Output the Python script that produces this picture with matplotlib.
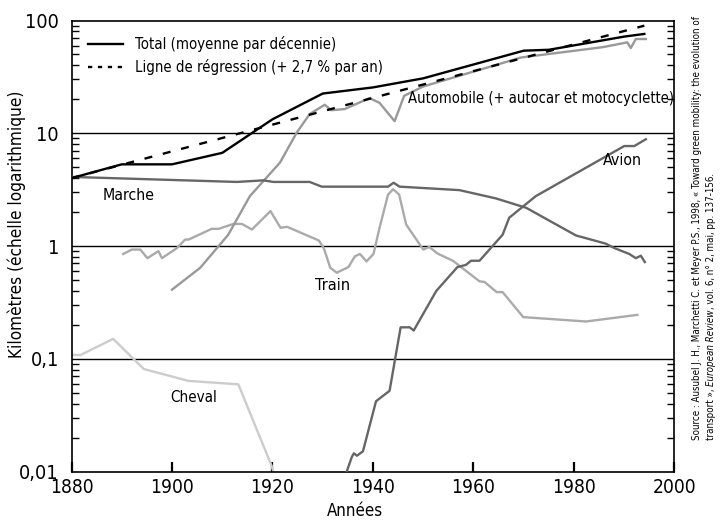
import matplotlib
matplotlib.use("Agg")
import matplotlib.pyplot as plt
from matplotlib import font_manager as fm
from matplotlib.ticker import FixedLocator, FixedFormatter, LogLocator, NullFormatter
from matplotlib.lines import Line2D

# ---- data ----
total_years = [1880, 1890, 1900, 1910, 1920, 1930, 1940, 1950, 1970, 1975, 1990, 1994]
total_vals = [4.0, 5.3, 5.3, 6.7, 13.3, 22.5, 25.5, 30.7, 54, 55, 72, 76]

regr_years = [1880, 1994]
regr_vals = [4.0, 90]

auto_years = [1900, 1905.6, 1909.3, 1911.2, 1915.5, 1918.2, 1921.5, 1924.8, 1927.4,
              1930.4, 1931.7, 1934.4, 1939.3, 1941.3, 1944.3, 1946.2, 1950,
              1969.5, 1985.7, 1990.6, 1991.3, 1992.3, 1994.3]
auto_vals = [0.41, 0.64, 1.0, 1.26, 2.77, 3.77, 5.5, 10.1, 14.8,
             17.9, 16.0, 16.4, 20.5, 18.6, 12.8, 21.5, 26,
             47, 58, 64, 57, 68.5, 68.5]

marche_years = [1880, 1912.9, 1918.2, 1920.2, 1927.4, 1929.8, 1943, 1944.1, 1945.3,
                1957.2, 1964.5, 1970.5, 1980.4, 1986.3, 1988, 1991, 1992.3, 1993.3, 1994.1]
marche_vals = [4.1, 3.7, 3.82, 3.7, 3.7, 3.36, 3.36, 3.64, 3.36,
               3.13, 2.64, 2.18, 1.24, 1.05, 0.96, 0.85, 0.78, 0.82, 0.72]

train_years = [1890.3, 1892, 1893.7, 1895.1, 1897.3, 1898, 1901, 1902.6, 1903.3,
               1907.9, 1909.3, 1912.2, 1913.9, 1915.9, 1919.6, 1921.6, 1922.9,
               1929.2, 1930.2, 1931.5, 1932.8, 1935.1, 1936.4, 1937.4, 1938.7,
               1940.1, 1941.3, 1943, 1944, 1945.2, 1946.6, 1950, 1951.2, 1952.9,
               1955.9, 1961.2, 1962.2, 1964.6, 1965.8, 1969.9, 1982.4, 1992.6]
train_vals = [0.85, 0.93, 0.93, 0.78, 0.90, 0.78, 0.96, 1.14, 1.14,
              1.42, 1.42, 1.57, 1.57, 1.40, 2.04, 1.45, 1.48,
              1.12, 0.96, 0.64, 0.58, 0.65, 0.81, 0.85, 0.73,
              0.85, 1.45, 2.86, 3.19, 2.86, 1.55, 0.93, 0.98, 0.855,
              0.74, 0.486, 0.48, 0.39, 0.39, 0.234, 0.214, 0.245]

cheval_years = [1880, 1881.8, 1888.3, 1894.4, 1903.3, 1913.2, 1919.8, 1920.3]
cheval_vals = [0.108, 0.108, 0.15, 0.081, 0.0636, 0.0593, 0.0113, 0.0095]

avion_years = [1934.6, 1935.8, 1936.2, 1936.8, 1938, 1940.6, 1943.3, 1945.5, 1947.3,
               1948.1, 1952.6, 1956.8, 1958.5, 1959.5, 1961.2, 1965.8, 1967.1,
               1972.4, 1990, 1992, 1994.3]
avion_vals = [0.0095, 0.0135, 0.0145, 0.0138, 0.0151, 0.042, 0.052, 0.19, 0.19,
              0.178, 0.40, 0.65, 0.68, 0.74, 0.74, 1.26, 1.78,
              2.77, 7.7, 7.7, 8.85]

ytick_vals = [0.01, 0.1, 1, 10, 100]
ytick_labels = ['0,01', '0,1', '1', '10', '100']
xtick_vals = [1880, 1900, 1920, 1940, 1960, 1980, 2000]
xtick_labels = ['1880', '1900', '1920', '1940', '1960', '1980', '2000']


# ---- fonts: prefer a narrow / condensed sans if one is installed ----
def _is_regular(f):
    w = f.weight
    return w in (400, 'normal', 'regular', 'book', 'Regular', 'Book')


def find_font(style):
    styles = ('normal',) if style == 'normal' else ('italic', 'oblique')
    for f in fm.fontManager.ttflist:
        if f.name == 'Liberation Sans Narrow' and f.style in styles and _is_regular(f):
            return f.fname
    for f in fm.fontManager.ttflist:
        if (f.name in ('DejaVu Sans', 'Noto Sans', 'Open Sans', 'Roboto')
                and f.style in styles and _is_regular(f)
                and str(f.stretch) in ('condensed', 'semi-condensed', 'extra-condensed', '75', '87.5')):
            return f.fname
    return None


REG = find_font('normal')
ITA = find_font('italic')


def FP(size, style='normal'):
    path = REG if style == 'normal' else ITA
    if path:
        return fm.FontProperties(fname=path, size=size)
    return fm.FontProperties(family=['Liberation Sans', 'DejaVu Sans'], style=style, size=size)


# ---- figure ----
W, H = 721, 521
fig = plt.figure(figsize=(W / 100, H / 100), dpi=100)
renderer = fig.canvas.get_renderer()


def fit(s, target, style='normal', ref=10.0):
    t = fig.text(0, 0, s, fontproperties=FP(ref, style))
    bb = t.get_window_extent(renderer)
    t.remove()
    return ref * target / bb.width


L, R, T, B = 71.5, 674.5, 20.5, 471.5
ax = fig.add_axes([L / W, 1 - B / H, (R - L) / W, (B - T) / H])
ax.set_yscale('log')
ax.set_xlim(1880, 2000)
ax.set_ylim(0.01, 100)

for v in [0.1, 1, 10]:
    ax.axhline(v, color='black', lw=1.0, zorder=1)

lw = 1.7
ax.plot(cheval_years, cheval_vals, color='#cccccc', lw=lw, zorder=2)
ax.plot(train_years, train_vals, color='#aaaaaa', lw=lw, zorder=2)
ax.plot(auto_years, auto_vals, color='#999999', lw=lw, zorder=2)
ax.plot(marche_years, marche_vals, color='#666666', lw=lw, zorder=3)
ax.plot(avion_years, avion_vals, color='#666666', lw=lw, zorder=3)
ax.plot(regr_years, regr_vals, color='black', lw=lw, dashes=(3.4, 4.6), zorder=4)
ax.plot(total_years, total_vals, color='black', lw=lw, zorder=5)

# ticks
ax.yaxis.set_major_locator(FixedLocator(ytick_vals))
ax.yaxis.set_major_formatter(FixedFormatter(ytick_labels))
ax.yaxis.set_minor_locator(LogLocator(base=10, subs=range(2, 10)))
ax.yaxis.set_minor_formatter(NullFormatter())
ax.tick_params(axis='y', which='major', length=0, pad=9)
ax.tick_params(axis='y', which='minor', direction='in', length=5, width=1.0,
               left=True, right=True, color='black')
ax.xaxis.set_major_locator(FixedLocator(xtick_vals))
ax.xaxis.set_major_formatter(FixedFormatter(xtick_labels))
ax.tick_params(axis='x', which='major', direction='in', length=7, width=1.6, pad=5)
for s in ax.spines.values():
    s.set_linewidth(1.2)

xs = fit('1880', 44)
ys = fit('100', 34)
for lbl in ax.get_xticklabels():
    lbl.set_fontproperties(FP(xs))
for lbl in ax.get_yticklabels():
    lbl.set_fontproperties(FP(ys))

# legend
h1 = Line2D([], [], color='black', lw=lw)
h2 = Line2D([], [], color='black', lw=lw, dashes=(1.8, 2.4))
legsize = fit('Total (moyenne par décennie)', 200)
leg = ax.legend([h1, h2], ['Total (moyenne par décennie)',
                           'Ligne de régression (+ 2,7 % par an)'],
                loc='upper left', bbox_to_anchor=(0.012, 0.985), frameon=False,
                prop=FP(legsize), handlelength=2.4, handletextpad=0.8,
                labelspacing=0.45, borderaxespad=0.2)


def ftext(px, py, s, target=None, size=None, style='normal', **kw):
    if size is None:
        size = fit(s, target, style)
    return fig.text(px / W, 1 - py / H, s, fontproperties=FP(size, style), **kw)


ftext(103, 196, 'Marche', target=52, va='center', ha='left')
ftext(333, 285, 'Train', target=35, va='center', ha='center')
ftext(194, 397, 'Cheval', target=47, va='center', ha='center')
ftext(622, 161, 'Avion', target=39, va='center', ha='center')
ftext(408, 98, 'Automobile (+ autocar et motocyclette)', target=265,
      va='center', ha='left')

ftext(17, 224, 'Kilomètres (échelle logarithmique)', target=267,
      rotation=90, va='center', ha='center')
ftext(355, 511, 'Années', target=56, va='center', ha='center')

# source (rotated, two lines)
src1 = 'Source : Ausubel J. H., Marchetti C. et Meyer P.S., 1998, « Toward green mobility: the evolution of'
srcsize = fit(src1, 428)
ftext(697, 440, src1, size=srcsize, rotation=90, va='center', ha='left',
      rotation_mode='anchor')
parts = [('transport », ', 'normal'), ('European Review', 'italic'),
         (', vol. 6, n° 2, mai, pp. 137-156.', 'normal')]
ypos = 440.0
for txt, st in parts:
    t = ftext(711, ypos, txt, size=srcsize, style=st, rotation=90, va='center',
              ha='left', rotation_mode='anchor')
    bb = t.get_window_extent(renderer)
    ypos -= bb.height

fig.savefig('out.png', dpi=100)
